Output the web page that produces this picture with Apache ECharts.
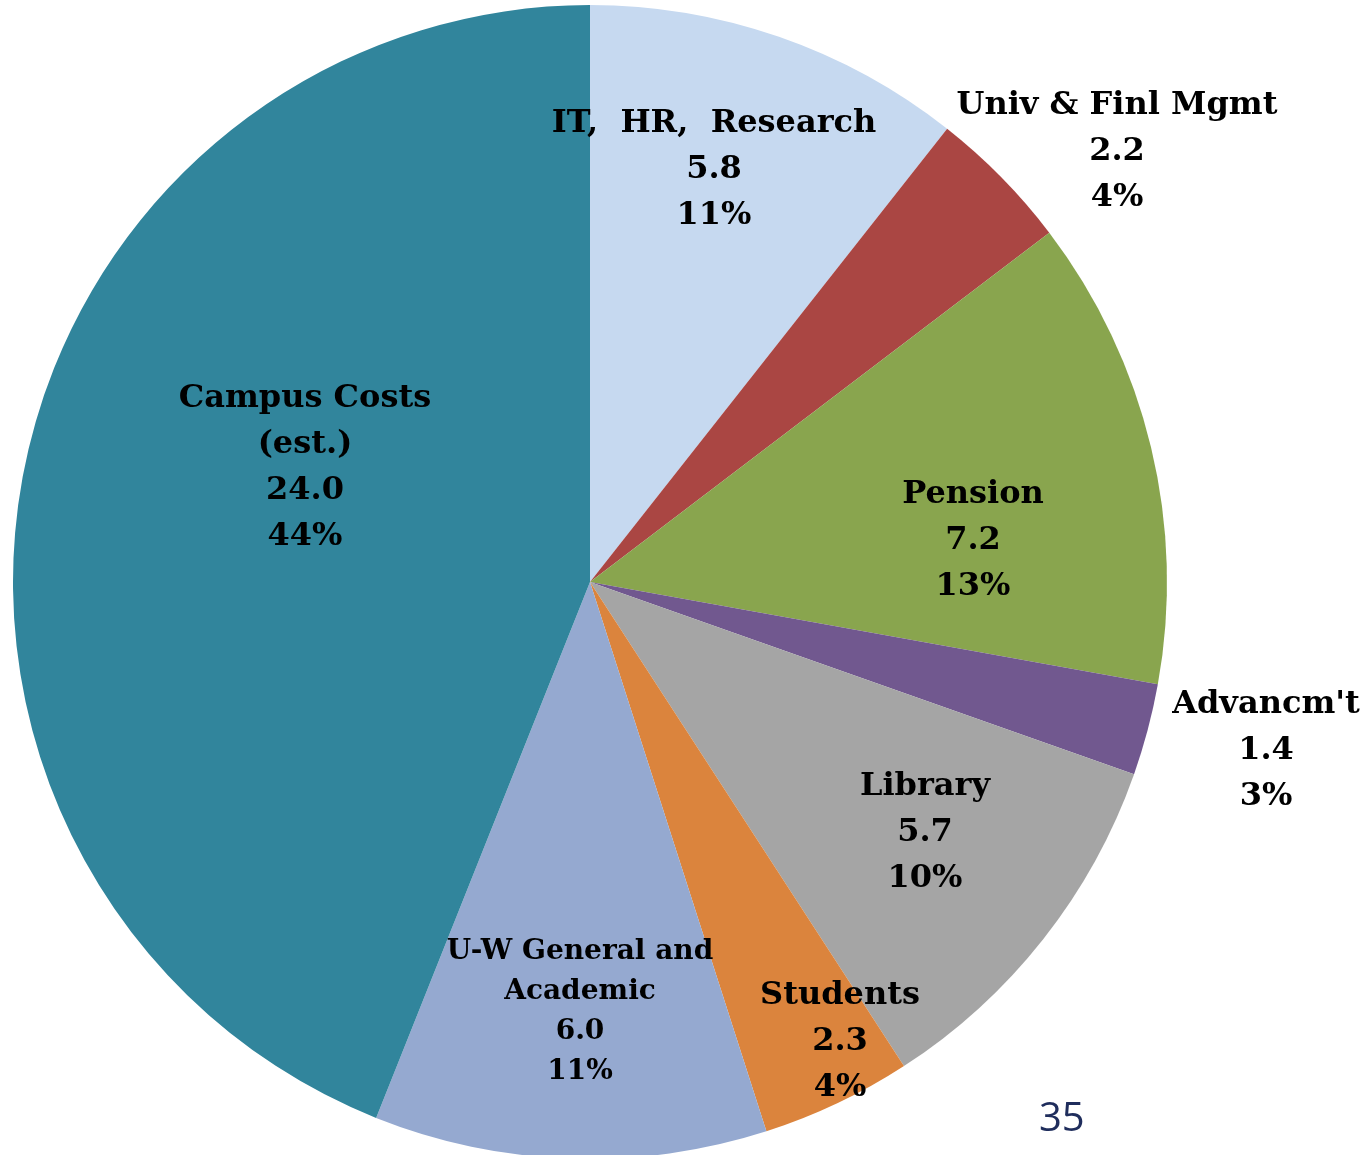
<!DOCTYPE html>
<html>
<head>
<meta charset="utf-8">
<script src="https://cdn.jsdelivr.net/npm/echarts@6/dist/echarts.min.js"></script>
<style>
  html, body { margin: 0; padding: 0; background: #fff; }
  #pieChart { width: 1372px; height: 1155px; }
</style>
</head>
<body>
<div id="pieChart"></div>
<script>
(function() {
    // 数据 (clockwise from 12 o'clock)
    var names = ['IT,  HR,  Research', 'Univ & Finl Mgmt', 'Pension', "Advancm't", 'Library', 'Students', 'U-W General and\nAcademic', 'Campus Costs\n(est.)'];
    var values = [5.8, 2.2, 7.2, 1.4, 5.7, 2.3, 6.0, 24.0];
    var colors = ['#C6D9F0', '#AA4643', '#89A54E', '#71588F', '#A5A5A5', '#DB843D', '#95A9D0', '#31859C'];
    // label anchor points (Excel "best fit" placement)
    var labelPos = [[714, 170], [1117, 152], [973, 541], [1266, 751], [925, 833], [840, 1042], [580, 1012], [305, 468]];

    var pieChart = echarts.init(document.getElementById('pieChart'));

    var pieData = names.map(function(n, i) {
        var item = { name: n, value: values[i], itemStyle: { color: colors[i] } };
        if (i === 6) {
            item.label = { fontSize: 28, lineHeight: 40 };
        }
        return item;
    });

    var option = {
        backgroundColor: '#ffffff',
        animation: false,
        graphic: [{
            type: 'text',
            left: 1039,
            top: 1100,
            style: {
                text: '35',
                font: '40px "Open Sans", sans-serif',
                fill: '#1F2D5C'
            }
        }],
        series: [{
            type: 'pie',
            center: [590, 582],
            radius: 577,
            startAngle: 90,
            clockwise: true,
            data: pieData,
            itemStyle: { borderWidth: 0 },
            label: {
                show: true,
                position: 'inside',
                fontFamily: '"DejaVu Serif", serif',
                fontWeight: 'bold',
                fontSize: 32,
                lineHeight: 46,
                color: '#000',
                align: 'center',
                formatter: function(p) {
                    return p.name + '\n' + p.value.toFixed(1) + '\n' + Math.round(p.percent) + '%';
                }
            },
            labelLine: { show: false },
            labelLayout: function(params) {
                var pos = labelPos[params.dataIndex];
                return { x: pos[0], y: pos[1], align: 'center', verticalAlign: 'middle' };
            },
            emphasis: { disabled: true }
        }]
    };

    pieChart.setOption(option);
})();
</script>
</body>
</html>
